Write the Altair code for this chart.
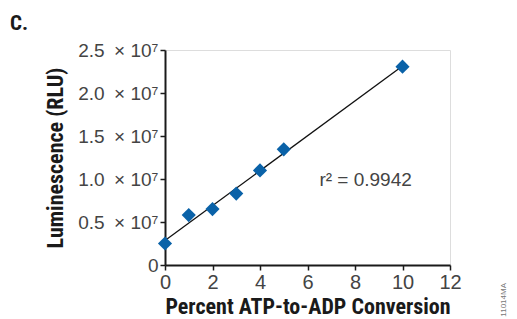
import altair as alt
import pandas as pd

percent = [0, 1, 2, 3, 4, 5, 10]
rlu = [2.5e6, 5.8e6, 6.5e6, 8.3e6, 11.0e6, 13.45e6, 23.06e6]
x_ticks = [0, 2, 4, 6, 8, 10, 12]
y_ticks = [0, 5e6, 1e7, 1.5e7, 2e7, 2.5e7]
annot_x = [6.5]
annot_y = [0.99e7]
annot_text = ["r\u00b2 = 0.9942"]

df = pd.DataFrame({"x": percent, "y": rlu})
ann = pd.DataFrame({"x": annot_x, "y": annot_y, "t": annot_text})

xs = alt.Scale(domain=[0, 12], nice=False, zero=True)
ys = alt.Scale(domain=[0, 2.5e7], nice=False)

label_font = "Liberation Sans"
title_font = "'Roboto Condensed', 'DejaVu Sans Condensed', 'Liberation Sans'"

xaxis = alt.Axis(values=x_ticks, title="Percent ATP-to-ADP Conversion", grid=False,
                 domainColor="#1a1a1a", domainWidth=2, tickColor="#1a1a1a", tickWidth=1.5,
                 tickSize=5, labelFont=label_font, labelFontSize=20, labelColor="#444444",
                 labelPadding=2, labelFlush=False,
                 titleFont=title_font, titleFontSize=22, titleFontWeight="bold",
                 titleColor="#1a1a1a", titlePadding=4)
yaxis = alt.Axis(values=y_ticks, title="Luminescence (RLU)", grid=False,
                 domainColor="#1a1a1a", domainWidth=2, tickColor="#1a1a1a", tickWidth=1.5,
                 tickSize=5, labelFont=label_font, labelFontSize=19, labelColor="#444444",
                 labelPadding=2, labelFlush=False,
                 labelExpr="datum.value == 0 ? '0' : format(datum.value / 1e7, '.1f') + '\u2002\u00d7\u00a010\u2077'",
                 titleFont=title_font, titleFontSize=22, titleFontWeight="bold",
                 titleColor="#1a1a1a", titlePadding=10)

base = alt.Chart(df)

line = base.transform_regression("x", "y", extent=[0, 10]).mark_line(
    color="#111111", strokeWidth=1.3
).encode(x=alt.X("x:Q", scale=xs, axis=xaxis), y=alt.Y("y:Q", scale=ys, axis=yaxis))

pts = base.mark_point(shape="diamond", filled=True, size=200, color="#0a62a8", opacity=1).encode(
    x=alt.X("x:Q", scale=xs), y=alt.Y("y:Q", scale=ys)
)

r2 = alt.Chart(ann).mark_text(align="left", baseline="middle", font=label_font,
                              fontSize=19, color="#444444").encode(
    x=alt.X("x:Q", scale=xs), y=alt.Y("y:Q", scale=ys), text="t:N"
)

letter = alt.Chart(pd.DataFrame({"t": ["C."]})).mark_text(
    align="left", baseline="alphabetic", font=title_font, fontSize=21, fontWeight="bold",
    color="#1a1a1a"
).encode(x=alt.value(-155), y=alt.value(-20), text="t:N")

code = alt.Chart(pd.DataFrame({"t": ["11014MA"]})).mark_text(
    align="right", baseline="middle", font=label_font, fontSize=8, angle=270,
    color="#777777"
).encode(x=alt.value(339), y=alt.value(233), text="t:N")

chart = alt.layer(line, pts, r2, letter, code).properties(
    width=285, height=215,
    autosize=alt.AutoSizeParams(type="none"),
    padding={"left": 157, "top": 42, "right": 59, "bottom": 54},
).configure_view(stroke=None).configure(background="white")

chart.save("out.html", embed_options={"renderer": "svg", "actions": False})
